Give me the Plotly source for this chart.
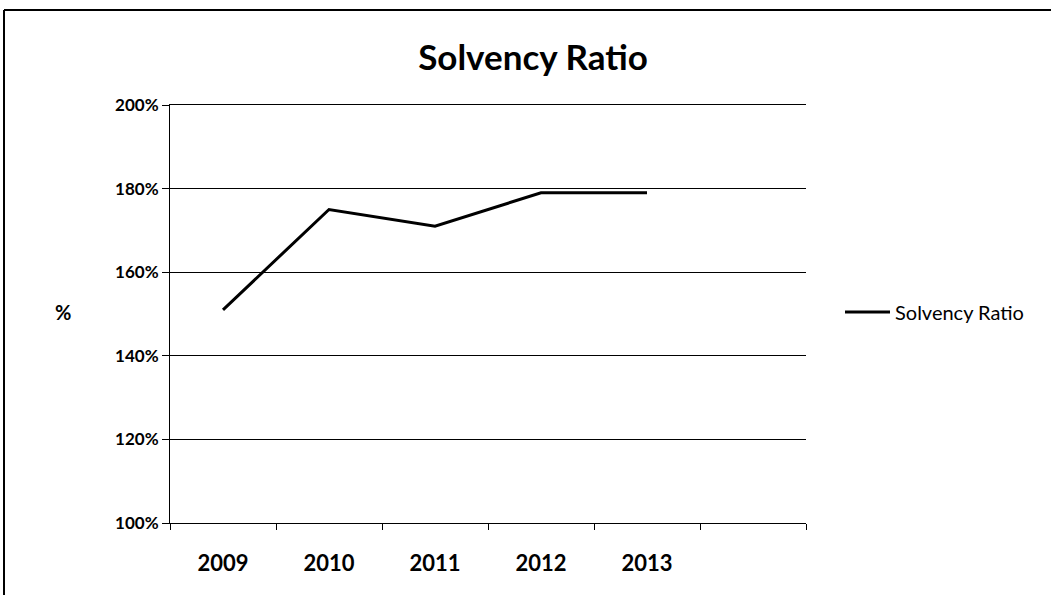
import plotly.graph_objects as go

# Solvency ratio by year (%)
years = ["2009", "2010", "2011", "2012", "2013"]
solvency_ratio = [151, 175, 171, 179, 179]
y_ticks = [100, 120, 140, 160, 180, 200]

n_slots = len(years) + 1  # one empty category slot on the right
x_pos = [i + 0.5 for i in range(len(years))]

FONT = "Lato"

fig = go.Figure()
fig.add_trace(go.Scatter(
    x=x_pos, y=solvency_ratio, mode="lines", name="Solvency Ratio",
    line=dict(color="black", width=3),
))

fig.update_layout(
    width=1051, height=595,
    margin=dict(l=170, r=245, t=105, b=72),
    paper_bgcolor="white", plot_bgcolor="white",
    font=dict(family=FONT, color="black"),
    title=dict(text="Solvency Ratio", x=533 / 1051, xref="container", xanchor="center",
               y=1 - 58 / 595, yref="container", yanchor="middle",
               font=dict(family=FONT, size=35, color="black", weight="bold")),
    showlegend=True,
    legend=dict(x=(840 - 170) / 636, xanchor="left", y=0.505, yanchor="middle",
                font=dict(family=FONT, size=20, color="black"),
                bgcolor="rgba(0,0,0,0)", itemwidth=45),
)

fig.update_xaxes(
    range=[0, n_slots], tickvals=x_pos, ticktext=years, ticks="",
    tickfont=dict(family=FONT, size=22, color="black", weight="bold"),
    showgrid=False, zeroline=False, showline=True, linecolor="black", linewidth=1,
    mirror=True, ticklabelstandoff=21,
    minor=dict(tickvals=list(range(n_slots + 1)), ticks="outside", ticklen=6,
               tickcolor="black", tickwidth=1, showgrid=False),
)
fig.update_yaxes(
    range=[100, 200], tickvals=y_ticks, ticktext=[f"{v}%" for v in y_ticks],
    tickfont=dict(family=FONT, size=17, color="black", weight="bold"),
    ticks="outside", ticklen=7, tickcolor="black",
    showgrid=True, gridcolor="black", gridwidth=1,
    zeroline=False, showline=True, linecolor="black", linewidth=1,
)

# bold "%" axis caption on the left
fig.add_annotation(text="%", xref="paper", yref="paper",
                   x=(53 - 170) / 636, y=(523 - 312) / 418, showarrow=False,
                   font=dict(family=FONT, size=20, color="black", weight="bold"))

# chart frame: top and left edges
top = (523 - 10) / 418
left = (4 - 170) / 636
fig.add_shape(type="line", xref="paper", yref="paper", x0=left, x1=(1051 - 170) / 636,
              y0=top, y1=top, line=dict(color="black", width=2))
fig.add_shape(type="line", xref="paper", yref="paper", x0=left, x1=left,
              y0=top, y1=(523 - 600) / 418, line=dict(color="black", width=2))

fig.write_html("out.html")
